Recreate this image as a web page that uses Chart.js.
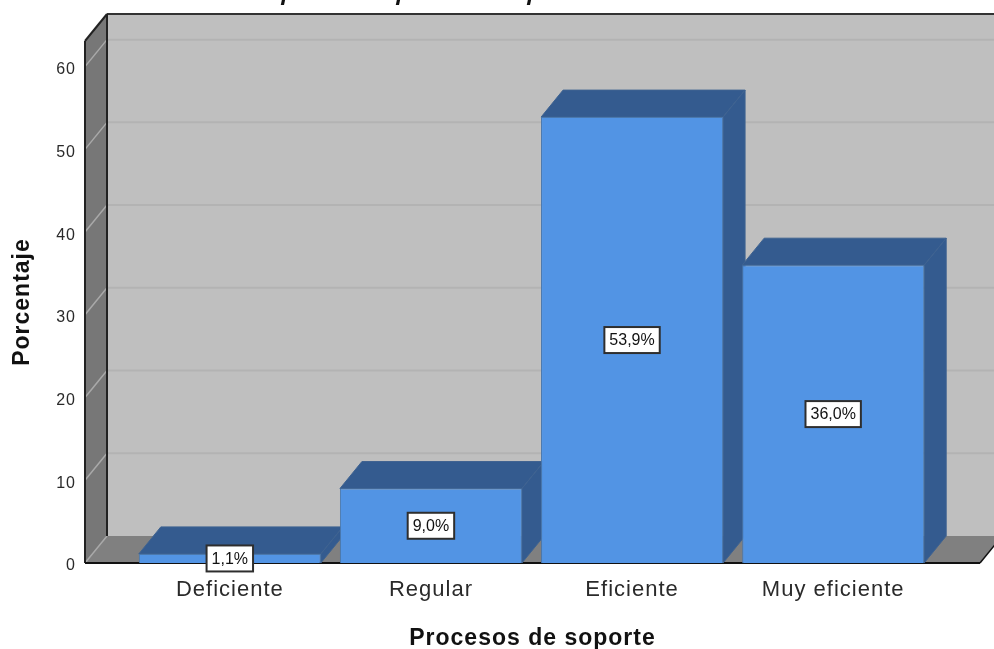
<!DOCTYPE html>
<html lang="es">
<head>
<meta charset="utf-8">
<title>Procesos de soporte</title>
<style>
    html, body { margin: 0; padding: 0; background: #fff; }
    canvas { display: block; }
</style>
<script src="https://cdn.jsdelivr.net/npm/chart.js@4/dist/chart.umd.js"></script>
</head>
<body>
<canvas id="soporteChart" width="994" height="649"></canvas>
<script>
const categories = ['Deficiente', 'Regular', 'Eficiente', 'Muy eficiente'];
const percentages = [1.1, 9.0, 53.9, 36.0];
const yTicks = [0, 10, 20, 30, 40, 50, 60];
const xAxisLabel = 'Procesos de soporte';
const yAxisLabel = 'Porcentaje';

// depth of the fake 3D box, in pixels
const DEPTH_X = 22;
const DEPTH_Y = 27;
const FONT = '"Liberation Sans", Arial, sans-serif';

const polygon = (ctx, points, fill, stroke, width) => {
    ctx.beginPath();
    points.forEach(([x, y], i) => i ? ctx.lineTo(x, y) : ctx.moveTo(x, y));
    ctx.closePath();
    ctx.fillStyle = fill;
    ctx.fill();
    if (stroke) {
        ctx.strokeStyle = stroke;
        ctx.lineWidth = width || 1;
        ctx.stroke();
    }
};

const line = (ctx, x1, y1, x2, y2, color, width) => {
    ctx.beginPath();
    ctx.moveTo(x1, y1);
    ctx.lineTo(x2, y2);
    ctx.strokeStyle = color;
    ctx.lineWidth = width;
    ctx.stroke();
};

// back wall, left wall, floor and gridlines
const boxPlugin = {
    id: 'box3d',
    beforeDraw(chart) {
        // axis text is slightly tracked out
        chart.ctx.letterSpacing = '1px';
    },
    beforeDatasetsDraw(chart) {
        const { ctx, chartArea: a, scales } = chart;
        const dx = DEPTH_X, dy = DEPTH_Y;
        ctx.save();

        polygon(ctx, [[a.left + dx, a.top - dy], [a.right + dx, a.top - dy], [a.right + dx, a.bottom - dy], [a.left + dx, a.bottom - dy]], '#bfbfbf');
        polygon(ctx, [[a.left, a.top], [a.left + dx, a.top - dy], [a.left + dx, a.bottom - dy], [a.left, a.bottom]], '#777777');
        polygon(ctx, [[a.left, a.bottom], [a.left + dx, a.bottom - dy], [a.right + dx, a.bottom - dy], [a.right, a.bottom]], '#808080');

        yTicks.forEach((v) => {
            const y = scales.y.getPixelForValue(v);
            line(ctx, a.left, y, a.left + dx, y - dy, '#a9a9a9', 1.5);
            if (v > 0) line(ctx, a.left + dx, y - dy, a.right + dx, y - dy, '#b3b3b3', 2);
        });

        // box outlines
        line(ctx, a.left + dx, a.top - dy, a.right + dx, a.top - dy, '#333333', 2);
        line(ctx, a.left + dx, a.top - dy, a.left + dx, a.bottom - dy, '#222222', 2);
        line(ctx, a.left, a.top, a.left + dx, a.top - dy, '#222222', 2);
        line(ctx, a.left, a.top, a.left, a.bottom, '#222222', 2);
        line(ctx, a.left, a.bottom, a.right, a.bottom, '#111111', 2);
        line(ctx, a.right, a.bottom, a.right + dx, a.bottom - dy, '#111111', 1.5);

        // top and side faces of each bar, the fronts are painted over them
        chart.getDatasetMeta(0).data.forEach((bar) => {
            const left = bar.x - bar.width / 2;
            const right = bar.x + bar.width / 2;
            polygon(ctx, [[left, bar.y], [left + dx, bar.y - dy], [right + dx, bar.y - dy], [right, bar.y]], '#345b8f', '#3f6391', 1);
            polygon(ctx, [[right, bar.y], [right + dx, bar.y - dy], [right + dx, bar.base - dy], [right, bar.base]], '#345b8f', '#3f6391', 1);
        });
        ctx.restore();
    },
    afterDatasetsDraw(chart) {
        const { ctx } = chart;
        ctx.save();
        ctx.letterSpacing = '0px';
        ctx.font = `16px ${FONT}`;
        ctx.textAlign = 'center';
        ctx.textBaseline = 'middle';
        chart.getDatasetMeta(0).data.forEach((bar, i) => {
            const text = percentages[i].toFixed(1).replace('.', ',') + '%';
            const w = ctx.measureText(text).width + 10;
            const h = 26;
            const cy = (bar.y + bar.base) / 2;
            ctx.fillStyle = '#ffffff';
            ctx.fillRect(bar.x - w / 2, cy - h / 2, w, h);
            ctx.strokeStyle = '#2e2e2e';
            ctx.lineWidth = 2;
            ctx.strokeRect(bar.x - w / 2, cy - h / 2, w, h);
            ctx.fillStyle = '#111111';
            ctx.fillText(text, bar.x, cy + 1);
        });

        // heading runs off the top edge, only the descenders show
        ctx.font = `italic bold 22px "Open Sans", ${FONT}`;
        ctx.textAlign = 'center';
        ctx.textBaseline = 'alphabetic';
        ctx.fillStyle = '#111111';
        [288, 403, 534].forEach((x) => ctx.fillText('p', x, 0));
        ctx.restore();
    }
};

new Chart(document.getElementById('soporteChart').getContext('2d'), {
    type: 'bar',
    data: {
        labels: categories.map((c, i) => i),
        datasets: [{
            data: percentages.map((v, i) => ({ x: i, y: v })),
            backgroundColor: '#5294e4',
            borderColor: '#4a78ad',
            borderWidth: 1,
            barPercentage: 0.905,
            categoryPercentage: 1
        }]
    },
    options: {
        responsive: false,
        animation: false,
        layout: { padding: { top: 41, right: 14, bottom: 0, left: 0 } },
        plugins: {
            legend: { display: false },
            tooltip: { enabled: false }
        },
        scales: {
            x: {
                type: 'linear',
                offset: false,
                min: -0.72,
                max: 3.73,
                grid: { display: false },
                border: { display: false },
                afterBuildTicks: (axis) => {
                    axis.ticks = categories.map((c, i) => ({ value: i }));
                },
                afterFit: (axis) => { axis.height = 86; },
                ticks: {
                    autoSkip: false,
                    maxRotation: 0,
                    padding: 6,
                    color: '#2a2a2a',
                    font: { family: FONT, size: 22 },
                    callback: (value) => categories[value]
                },
                title: {
                    display: true,
                    text: xAxisLabel,
                    color: '#111111',
                    font: { family: FONT, size: 23, weight: 'bold' },
                    padding: { top: 15, bottom: -3 }
                }
            },
            y: {
                min: 0,
                max: 63.1,
                grid: { display: false },
                border: { display: false },
                afterBuildTicks: (axis) => {
                    axis.ticks = yTicks.map((value) => ({ value }));
                },
                afterFit: (axis) => { axis.width = 85; },
                ticks: {
                    padding: 1,
                    labelOffset: 3,
                    color: '#2a2a2a',
                    font: { family: FONT, size: 16 }
                },
                title: {
                    display: true,
                    text: yAxisLabel,
                    color: '#111111',
                    font: { family: FONT, size: 23, weight: 'bold' },
                    padding: { top: 9, bottom: 0 }
                }
            }
        }
    },
    plugins: [boxPlugin]
});
</script>
</body>
</html>
